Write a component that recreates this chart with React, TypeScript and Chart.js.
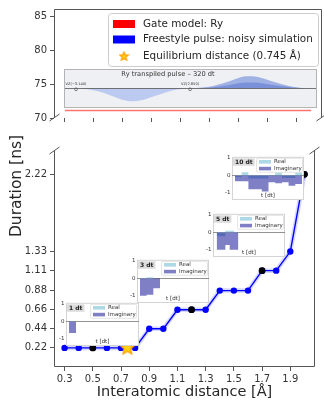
import React, { useEffect, useRef } from 'react';
import { Chart, registerables } from 'chart.js';
Chart.register(...registerables);

// ---------- data ----------
const distances = [0.3, 0.4, 0.5, 0.6, 0.7, 0.8, 0.9, 1.0, 1.1, 1.2, 1.3, 1.4, 1.5, 1.6, 1.7, 1.8, 1.9, 2.0];
const freestyleDurations = [0.22, 0.22, 0.22, 0.22, 0.22, 0.22, 0.44, 0.44, 0.66, 0.66, 0.66, 0.88, 0.88, 0.88, 1.11, 1.11, 1.33, 2.22];
const highlightDistances = [0.5, 1.2, 1.7, 2.0];
const highlightDurations = [0.22, 0.66, 1.11, 2.22];
const gateModelDurations = [71.1, 71.1, 71.1, 71.1, 71.1, 71.1, 71.1, 71.1, 71.1, 71.1, 71.1, 71.1, 71.1, 71.1, 71.1, 71.1, 71.1, 71.1];
const equilibriumDistance = 0.745;
const equilibriumDuration = 0.22;

const xTicks = [0.3, 0.5, 0.7, 0.9, 1.1, 1.3, 1.5, 1.7, 1.9];
const bottomYTicks = [0.22, 0.44, 0.66, 0.88, 1.11, 1.33, 2.22];
const topYTicks = [70, 75, 80, 85];
const insetYTicks = [-1, 0, 1];

const gateLabel = 'Gate model: Ry';
const freestyleLabel = 'Freestyle pulse: noisy simulation';
const equilibriumLabel = `Equilibrium distance (${equilibriumDistance} Å)`;
const xTitle = 'Interatomic distance [Å]';
const yTitle = 'Duration [ns]';

// Ry transpiled pulse (samples, t in dt)
const pulseTitle = 'Ry transpiled pulse – 320 dt';
const pulseNegT = [0, 16, 32, 48, 64, 77, 92, 108, 124, 140, 158];
const pulseNegV = [0, -0.08, -0.25, -0.55, -0.88, -1.0, -0.9, -0.62, -0.32, -0.1, 0];
const pulsePosT = [158, 175, 190, 205, 220, 236, 252, 268, 284, 300, 320];
const pulseOuterV = [0, 0.06, 0.18, 0.4, 0.7, 0.92, 0.87, 0.6, 0.33, 0.12, 0];
const pulseInnerV = [0, 0.03, 0.09, 0.2, 0.34, 0.45, 0.43, 0.3, 0.17, 0.06, 0];
const vzT = [0, 158];
const vzLabels = ['VZ(−3.140)', 'VZ(2.850)'];

// inset pulses (per-dt samples)
const insetLabels = ['1 dt', '3 dt', '5 dt', '10 dt'];
const inset1Real = [0.02];
const inset1Imag = [-0.67];
const inset3Real = [-0.05, 0.06, 0.0];
const inset3Imag = [-1.0, -0.94, -0.56];
const inset5Real = [-0.22, -0.22, 0.09, 0.09, -0.05];
const inset5Imag = [-1.0, -1.0, -0.72, -1.0, -1.0];
const inset10Real = [-0.1, 0.18, -0.18, -0.18, -0.18, 0.02, 0.17, -0.15, -0.15, 0.17];
const inset10Imag = [-0.33, -0.33, -0.8, -0.8, -0.92, -0.4, -0.45, -0.4, -0.6, -0.5];
const realLabel = 'Real';
const imagLabel = 'Imaginary';

// ---------- styling ----------
const FONT = 'DejaVu Sans';
const SPINE = '#555555';
const LABEL = '#333333';

function makeStar(size: number, fill: string, stroke: string) {
  const c = document.createElement('canvas');
  c.width = size;
  c.height = size;
  const g = c.getContext('2d')!;
  const cx = size / 2;
  const R = size / 2 - 1;
  const r = R * 0.45;
  g.beginPath();
  for (let i = 0; i < 10; i++) {
    const a = -Math.PI / 2 + (i * Math.PI) / 5;
    const rad = i % 2 ? r : R;
    g.lineTo(cx + rad * Math.cos(a), cx + rad * Math.sin(a));
  }
  g.closePath();
  g.fillStyle = fill;
  g.fill();
  g.lineWidth = 1.2;
  g.strokeStyle = stroke;
  g.stroke();
  return c;
}

function line(ctx: CanvasRenderingContext2D, x1: number, y1: number, x2: number, y2: number) {
  ctx.beginPath();
  ctx.moveTo(x1, y1);
  ctx.lineTo(x2, y2);
  ctx.stroke();
}

function rrect(ctx: CanvasRenderingContext2D, x: number, y: number, w: number, h: number, r: number) {
  ctx.beginPath();
  if ((ctx as any).roundRect) (ctx as any).roundRect(x, y, w, h, r);
  else ctx.rect(x, y, w, h);
}

const stepPoints = (vals: number[]) =>
  vals.map((v, i) => ({ x: i, y: v })).concat([{ x: vals.length, y: vals[vals.length - 1] }]);

const insetDefs = [
  { label: insetLabels[0], real: inset1Real, imag: inset1Imag, left: 66, width: 73, top: 300, xMin: -0.43, xMax: 10.0 },
  { label: insetLabels[1], real: inset3Real, imag: inset3Imag, left: 137, width: 72, top: 257, xMin: -0.45, xMax: 10.35 },
  { label: insetLabels[2], real: inset5Real, imag: inset5Imag, left: 213, width: 72, top: 211, xMin: -0.85, xMax: 15.75 },
  { label: insetLabels[3], real: inset10Real, imag: inset10Imag, left: 232, width: 72, top: 154, xMin: -0.45, xMax: 10.3 },
];
const INSET_AXIS_W = 12;
const INSET_CANVAS_H = 50;

export default function App() {
  const topRef = useRef<HTMLCanvasElement>(null);
  const botRef = useRef<HTMLCanvasElement>(null);
  const pulseRef = useRef<HTMLCanvasElement>(null);
  const in0 = useRef<HTMLCanvasElement>(null);
  const in1 = useRef<HTMLCanvasElement>(null);
  const in2 = useRef<HTMLCanvasElement>(null);
  const in3 = useRef<HTMLCanvasElement>(null);
  const insetRefs = [in0, in1, in2, in3];

  useEffect(() => {
    const charts: Chart[] = [];
    const star = makeStar(17, '#ffd01a', '#ff9d00');
    const legendStar = makeStar(11, '#ffd01a', '#ff9d00');

    const spinesPlugin = (sides: { top?: boolean; right?: boolean; bottom?: boolean; left?: boolean }, breakAt: 'top' | 'bottom') => ({
      id: 'spines' + breakAt,
      afterDraw(chart: any) {
        const { ctx, chartArea: a } = chart;
        ctx.save();
        ctx.strokeStyle = SPINE;
        ctx.lineWidth = 1;
        const L = Math.round(a.left) + 0.5;
        const R = Math.round(a.right) - 0.5;
        const T = Math.round(a.top) + 0.5;
        const B = Math.round(a.bottom) - 0.5;
        if (sides.left) line(ctx, L, T, L, B);
        if (sides.right) line(ctx, R, T, R, B);
        if (sides.top) line(ctx, L, T, R, T);
        if (sides.bottom) line(ctx, L, B, R, B);
        const y = breakAt === 'bottom' ? B : T;
        line(ctx, L - 5, y + 3.5, L + 5, y - 3.5);
        line(ctx, R - 5, y + 3.5, R + 5, y - 3.5);
        ctx.restore();
      },
    });

    const legendPlugin = {
      id: 'mainLegend',
      afterDraw(chart: any) {
        const ctx = chart.ctx as CanvasRenderingContext2D;
        ctx.save();
        rrect(ctx, 108.5, 13.5, 210, 53, 3);
        ctx.fillStyle = 'rgba(255,255,255,0.9)';
        ctx.fill();
        ctx.strokeStyle = '#cccccc';
        ctx.lineWidth = 1;
        ctx.stroke();
        const rows = [24, 39.5, 56.5];
        const items = [
          { label: gateLabel, color: '#ff0000' },
          { label: freestyleLabel, color: '#0000ff' },
          { label: equilibriumLabel, color: null },
        ];
        ctx.font = `10.4px "${FONT}"`;
        ctx.textBaseline = 'middle';
        ctx.textAlign = 'left';
        items.forEach((it, i) => {
          const y = rows[i];
          if (it.color) {
            ctx.fillStyle = it.color;
            ctx.fillRect(113, y - 4, 22, 8);
          } else {
            ctx.drawImage(legendStar, 124 - 5.5, y - 5.5);
          }
          ctx.fillStyle = '#262626';
          ctx.fillText(it.label, 143, y);
        });
        ctx.restore();
      },
    };

    // ---------- top panel ----------
    charts.push(
      new Chart(topRef.current!, {
        type: 'line',
        data: {
          datasets: [
            {
              label: gateLabel,
              data: distances.map((d, i) => ({ x: d, y: gateModelDurations[i] })),
              borderColor: 'rgba(255,0,0,0.55)',
              borderWidth: 1.4,
              pointRadius: 0,
            },
          ],
        },
        options: {
          animation: false,
          responsive: false,
          layout: { padding: { top: 9, right: 2, left: 0, bottom: 0 } },
          plugins: { legend: { display: false }, tooltip: { enabled: false } },
          scales: {
            x: {
              type: 'linear',
              min: 0.225,
              max: 2.075,
              afterBuildTicks: (s: any) => {
                s.ticks = xTicks.map((v) => ({ value: v }));
              },
              afterFit: (s: any) => {
                s.height = 12;
              },
              ticks: { callback: () => '', autoSkip: false },
              grid: { drawOnChartArea: false, drawTicks: true, tickLength: 4, color: SPINE },
              border: { display: false },
            },
            y: {
              min: 70,
              max: 86.1,
              afterBuildTicks: (s: any) => {
                s.ticks = topYTicks.map((v) => ({ value: v }));
              },
              afterFit: (s: any) => {
                s.width = 54;
              },
              ticks: { font: { family: FONT, size: 10 }, color: LABEL, padding: 3 },
              grid: { drawOnChartArea: false, tickLength: 4, color: SPINE },
              border: { display: false },
            },
          },
        },
        plugins: [spinesPlugin({ left: true, right: true, top: true }, 'bottom'), legendPlugin],
      } as any)
    );

    // ---------- bottom panel ----------
    const freestylePts = distances.map((d, i) => ({ x: d, y: freestyleDurations[i] }));
    charts.push(
      new Chart(botRef.current!, {
        type: 'line',
        data: {
          datasets: [
            {
              label: 'halo',
              data: freestylePts,
              borderColor: 'rgba(0,0,255,0.16)',
              borderWidth: 4.5,
              pointRadius: 0,
              order: 4,
            },
            {
              label: freestyleLabel,
              data: freestylePts,
              borderColor: '#0000ff',
              borderWidth: 1.4,
              pointRadius: 3.2,
              pointBackgroundColor: '#0000ff',
              pointBorderColor: '#0000ff',
              pointBorderWidth: 0,
              order: 3,
            },
            {
              label: 'Shown pulses',
              data: highlightDistances.map((d, i) => ({ x: d, y: highlightDurations[i] })),
              showLine: false,
              pointRadius: 3.4,
              pointBackgroundColor: '#000000',
              pointBorderColor: '#000000',
              pointBorderWidth: 0,
              order: 2,
            },
            {
              label: equilibriumLabel,
              data: [{ x: equilibriumDistance, y: equilibriumDuration }],
              showLine: false,
              pointStyle: star,
              pointRadius: 8,
              order: 1,
            },
          ],
        },
        options: {
          animation: false,
          responsive: false,
          layout: { padding: { top: 20, right: 2, left: 0, bottom: 0 } },
          plugins: { legend: { display: false }, tooltip: { enabled: false } },
          scales: {
            x: {
              type: 'linear',
              min: 0.225,
              max: 2.075,
              afterBuildTicks: (s: any) => {
                s.ticks = xTicks.map((v) => ({ value: v }));
              },
              afterFit: (s: any) => {
                s.height = 38;
              },
              ticks: {
                callback: (v: any) => Number(v).toFixed(1),
                autoSkip: false,
                maxRotation: 0,
                font: { family: FONT, size: 10 },
                color: LABEL,
                padding: 2,
              },
              grid: { drawOnChartArea: false, tickLength: 4, color: SPINE },
              border: { display: false },
              title: {
                display: true,
                text: xTitle,
                font: { family: FONT, size: 14.5 },
                color: '#262626',
                padding: { top: 0, bottom: 4 },
              },
            },
            y: {
              min: 0,
              max: 2.5,
              afterBuildTicks: (s: any) => {
                s.ticks = bottomYTicks.map((v) => ({ value: v }));
              },
              afterFit: (s: any) => {
                s.width = 54;
              },
              ticks: {
                callback: (v: any) => Number(v).toFixed(2),
                font: { family: FONT, size: 10 },
                color: LABEL,
                padding: 3,
              },
              grid: { drawOnChartArea: false, tickLength: 4, color: SPINE },
              border: { display: false },
            },
          },
        },
        plugins: [spinesPlugin({ left: true, right: true, bottom: true }, 'top')],
      } as any)
    );

    // ---------- Ry pulse inset ----------
    charts.push(
      new Chart(pulseRef.current!, {
        type: 'line',
        data: {
          datasets: [
            {
              label: 'neg',
              data: pulseNegT.map((t, i) => ({ x: t, y: pulseNegV[i] })),
              fill: 'origin',
              backgroundColor: '#bccaf1',
              borderWidth: 0,
              pointRadius: 0,
              cubicInterpolationMode: 'monotone',
              order: 3,
            },
            {
              label: 'outer',
              data: pulsePosT.map((t, i) => ({ x: t, y: pulseOuterV[i] })),
              fill: 'origin',
              backgroundColor: '#a0b1e3',
              borderWidth: 0,
              pointRadius: 0,
              cubicInterpolationMode: 'monotone',
              order: 2,
            },
            {
              label: 'inner',
              data: pulsePosT.map((t, i) => ({ x: t, y: pulseInnerV[i] })),
              fill: 'origin',
              backgroundColor: '#7a91d9',
              borderWidth: 0,
              pointRadius: 0,
              cubicInterpolationMode: 'monotone',
              order: 1,
            },
          ],
        },
        options: {
          animation: false,
          responsive: false,
          layout: { padding: 0 },
          plugins: { legend: { display: false }, tooltip: { enabled: false } },
          scales: {
            x: { type: 'linear', display: false, min: -16.6, max: 333.8 },
            y: { display: false, min: -1.515, max: 1.485 },
          },
        },
        plugins: [
          {
            id: 'pulseDecor',
            beforeDatasetsDraw(chart: any) {
              const { ctx, chartArea: a } = chart;
              ctx.save();
              ctx.fillStyle = '#eff0f3';
              ctx.fillRect(a.left, a.top, a.right - a.left, a.bottom - a.top);
              ctx.restore();
            },
            afterDatasetsDraw(chart: any) {
              const { ctx, chartArea: a, scales } = chart;
              const y0 = Math.round(scales.y.getPixelForValue(0)) + 0.5;
              ctx.save();
              ctx.strokeStyle = '#555555';
              ctx.lineWidth = 0.8;
              line(ctx, a.left, y0, a.right, y0);
              ctx.strokeStyle = '#b4b4b4';
              ctx.lineWidth = 1;
              ctx.strokeRect(a.left + 0.5, a.top + 0.5, a.right - a.left - 1, a.bottom - a.top - 1);
              ctx.fillStyle = '#333333';
              ctx.font = `6.7px "${FONT}"`;
              ctx.textAlign = 'center';
              ctx.textBaseline = 'middle';
              ctx.fillText(pulseTitle, 104, 5.5);
              ctx.font = `3.6px "${FONT}"`;
              vzT.forEach((t, i) => {
                const x = scales.x.getPixelForValue(t);
                ctx.fillText(vzLabels[i], x, y0 - 4.5);
                ctx.strokeStyle = '#555555';
                ctx.lineWidth = 0.7;
                ctx.beginPath();
                ctx.arc(x, y0 + 0.8, 1.4, 0, Math.PI * 2);
                ctx.stroke();
              });
              ctx.restore();
            },
          },
        ],
      } as any)
    );

    // ---------- dt insets ----------
    insetDefs.forEach((def, k) => {
      charts.push(
        new Chart(insetRefs[k].current!, {
          type: 'line',
          data: {
            datasets: [
              {
                label: realLabel,
                data: stepPoints(def.real),
                stepped: true,
                fill: 'origin',
                backgroundColor: '#add8e6',
                borderWidth: 0,
                pointRadius: 0,
                order: 2,
              },
              {
                label: imagLabel,
                data: stepPoints(def.imag),
                stepped: true,
                fill: 'origin',
                backgroundColor: 'rgba(0,0,139,0.5)',
                borderWidth: 0,
                pointRadius: 0,
                order: 1,
              },
            ],
          },
          options: {
            animation: false,
            responsive: false,
            layout: { padding: { top: 2, right: 2, left: 0, bottom: 8 } },
            plugins: { legend: { display: false }, tooltip: { enabled: false } },
            scales: {
              x: { type: 'linear', display: false, min: def.xMin, max: def.xMax },
              y: {
                min: -1.07,
                max: 1.07,
                afterBuildTicks: (s: any) => {
                  s.ticks = insetYTicks.map((v) => ({ value: v }));
                },
                afterFit: (s: any) => {
                  s.width = INSET_AXIS_W;
                },
                ticks: { font: { family: FONT, size: 5.5 }, color: '#333333', padding: 1.5 },
                grid: {
                  drawTicks: false,
                  color: (c: any) => (c.tick && c.tick.value === 0 ? '#777777' : 'rgba(0,0,0,0)'),
                  lineWidth: 0.8,
                },
                border: { display: false },
              },
            },
          },
          plugins: [
            {
              id: 'insetDecor',
              beforeDraw(chart: any) {
                const { ctx, chartArea: a } = chart;
                ctx.save();
                ctx.fillStyle = '#ffffff';
                ctx.fillRect(a.left, a.top, a.right - a.left, a.bottom - a.top + 6);
                ctx.strokeStyle = '#d4d4d4';
                ctx.lineWidth = 1;
                ctx.strokeRect(a.left + 0.5, a.top + 0.5, a.right - a.left - 1, a.bottom - a.top + 5);
                ctx.restore();
              },
              afterDatasetsDraw(chart: any) {
                const { ctx, chartArea: a } = chart;
                const ds = chart.data.datasets;
                ctx.save();
                ctx.font = `bold 6px "${FONT}"`;
                const tw = ctx.measureText(def.label).width;
                ctx.fillStyle = '#dcdcdc';
                ctx.fillRect(a.left + 1, a.top + 1.5, tw + 4, 7.5);
                ctx.fillStyle = '#222222';
                ctx.textBaseline = 'middle';
                ctx.textAlign = 'left';
                ctx.fillText(def.label, a.left + 3, a.top + 5.3);
                rrect(ctx, a.left + 24.5, a.top + 1.5, 46, 14, 1.5);
                ctx.fillStyle = 'rgba(255,255,255,0.85)';
                ctx.fill();
                ctx.strokeStyle = '#dddddd';
                ctx.lineWidth = 0.8;
                ctx.stroke();
                ctx.font = `5.5px "${FONT}"`;
                [0, 1].forEach((i) => {
                  const y = a.top + 5 + i * 6.8;
                  ctx.fillStyle = ds[i].backgroundColor;
                  ctx.fillRect(a.left + 27, y - 1.8, 12, 3.6);
                  ctx.fillStyle = '#333333';
                  ctx.fillText(ds[i].label, a.left + 42, y);
                });
                // x-axis label of the inset
                ctx.textAlign = 'center';
                ctx.fillText('t [dt]', (a.left + a.right) / 2, a.bottom + 2);
                ctx.restore();
              },
            },
          ],
        } as any)
      );
    });

    return () => charts.forEach((c) => c.destroy());
  }, []);

  return (
    <div style={{ position: 'absolute', left: 0, top: 0, width: 324, height: 405, background: '#ffffff', overflow: 'hidden' }}>
      <canvas ref={topRef} width={324} height={130} style={{ position: 'absolute', left: 0, top: 0 }} />
      <canvas ref={botRef} width={324} height={275} style={{ position: 'absolute', left: 0, top: 130 }} />
      <canvas ref={pulseRef} width={253} height={39} style={{ position: 'absolute', left: 64, top: 69 }} />
      {insetDefs.map((d, k) => (
        <canvas
          key={k}
          ref={insetRefs[k]}
          width={d.width + INSET_AXIS_W + 2}
          height={INSET_CANVAS_H}
          style={{ position: 'absolute', left: d.left - INSET_AXIS_W, top: d.top - 2 }}
        />
      ))}
      <div
        style={{
          position: 'absolute',
          left: 15.5 - 100,
          top: 185.5 - 10,
          width: 200,
          height: 20,
          lineHeight: '20px',
          textAlign: 'center',
          transform: 'rotate(-90deg)',
          fontFamily: FONT,
          fontSize: 15.5,
          color: '#262626',
          whiteSpace: 'nowrap',
        }}
      >
        {yTitle}
      </div>
    </div>
  );
}
